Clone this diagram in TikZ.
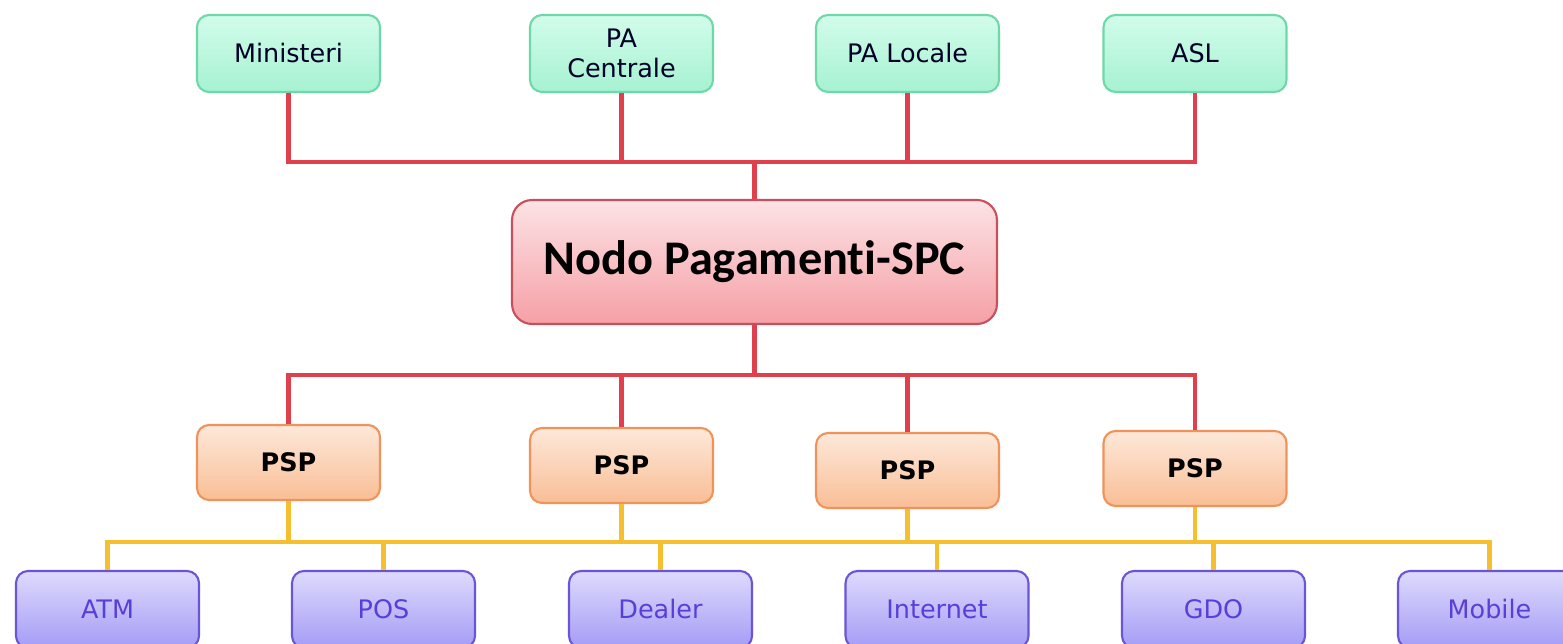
\documentclass[tikz,border=0pt]{standalone}
\usepackage{fontspec}
\setmainfont{DejaVu Sans}
\newfontfamily\hubfont[Ligatures=NoCommon]{Carlito}

\definecolor{entegreen}{HTML}{6FD8A8}
\definecolor{entetop}{HTML}{D2FCEA}
\definecolor{entebot}{HTML}{A6F2D2}
\definecolor{hubdraw}{HTML}{C8505A}
\definecolor{hubtop}{HTML}{FCE2E5}
\definecolor{hubbot}{HTML}{F5A0A6}
\definecolor{pspdraw}{HTML}{F0935A}
\definecolor{psptop}{HTML}{FDE8D9}
\definecolor{pspbot}{HTML}{F9BE96}
\definecolor{chandraw}{HTML}{6A55D8}
\definecolor{chantop}{HTML}{DEDAFD}
\definecolor{chanbot}{HTML}{A49CF5}
\definecolor{chantext}{HTML}{5A3ED8}
\definecolor{linkred}{HTML}{E0404C}
\definecolor{linkyellow}{HTML}{F5BF30}

\begin{document}
\begin{tikzpicture}[x = 0.02cm, y = -0.02cm,
	topbox/.style = {draw = entegreen, line width = 1.2pt, rounded corners = 0.24cm,
		top color = entetop, bottom color = entebot, text = black!85!blue,
		minimum width = 3.66cm, minimum height = 1.54cm, inner sep = 0pt,
		align = center, font = \fontsize{14.5}{17}\selectfont},
	hubbox/.style = {draw = hubdraw, line width = 1.2pt, rounded corners = 0.4cm,
		top color = hubtop, bottom color = hubbot,
		minimum width = 9.7cm, minimum height = 2.48cm, inner sep = 0pt,
		font = \hubfont\bfseries\fontsize{27.5}{32}\selectfont},
	pspbox/.style = {draw = pspdraw, line width = 1.2pt, rounded corners = 0.24cm,
		top color = psptop, bottom color = pspbot,
		minimum width = 3.66cm, minimum height = 1.5cm, inner sep = 0pt,
		font = \bfseries\fontsize{14.5}{17}\selectfont},
	channelbox/.style = {draw = chandraw, line width = 1.2pt, rounded corners = 0.24cm,
		top color = chantop, bottom color = chanbot, text = chantext,
		minimum width = 3.66cm, minimum height = 1.54cm, inner sep = 0pt,
		font = \fontsize{14.5}{17}\selectfont},
	redline/.style = {draw = linkred, line width = 2.8pt},
	yellowline/.style = {draw = linkyellow, line width = 2.3pt}]

\useasboundingbox (0, 0) rectangle (1563, 644);
\clip (0, 0) rectangle (1563, 644);

	% Enti creditori
	
	\node [topbox] (mini) at (288.5, 53.5) {Ministeri};
	\node [topbox] (pacen) at (621.5, 53.5) {PA\\Centrale};
	\node [topbox] (paloc) at (907.5, 53.5) {PA Locale};
	\node [topbox] (asl) at (1195, 53.5) {ASL};
	
	% Nodo centrale
	
	\node [hubbox] (nodo) at (754.5, 262) {Nodo Pagamenti-SPC};
	
	% Prestatori di servizi
	
	\node [pspbox] (psp1) at (288.5, 462.5) {PSP};
	\node [pspbox] (psp2) at (621.5, 465.5) {PSP};
	\node [pspbox] (psp3) at (907.5, 470.5) {PSP};
	\node [pspbox] (psp4) at (1195, 468.5) {PSP};
	
	% Canali
	
	\node [channelbox] (atm) at (107.5, 609.5) {ATM};
	\node [channelbox] (pos) at (383.5, 609.5) {POS};
	\node [channelbox] (dealer) at (660.5, 609.5) {Dealer};
	\node [channelbox] (inet) at (937, 609.5) {Internet};
	\node [channelbox] (gdo) at (1213.5, 609.5) {GDO};
	\node [channelbox] (mobile) at (1489.5, 609.5) {Mobile};
	
	% Collegamenti
	
	\coordinate (topbar) at (754.5, 162);
	\coordinate (midbar) at (754.5, 375);
	\coordinate (lowbar) at (754.5, 542);
	
	\draw [redline] (mini.south) |- (topbar) -| (asl.south);
	\draw [redline] (pacen.south) -- (pacen.south |- topbar);
	\draw [redline] (paloc.south) -- (paloc.south |- topbar);
	\draw [redline] (topbar) -- (nodo.north);
	
	\draw [redline] (nodo.south) -- (midbar);
	\draw [redline] (psp1.north) |- (midbar) -| (psp4.north);
	\draw [redline] (psp2.north) -- (psp2.north |- midbar);
	\draw [redline] (psp3.north) -- (psp3.north |- midbar);
	
	\draw [yellowline] (atm.north) |- (lowbar) -| (mobile.north);
	\foreach \n in {psp1, psp2, psp3, psp4, pos, dealer, inet, gdo}
		\draw [yellowline] (\n |- lowbar) -- (\n);
	
\end{tikzpicture}
\end{document}
